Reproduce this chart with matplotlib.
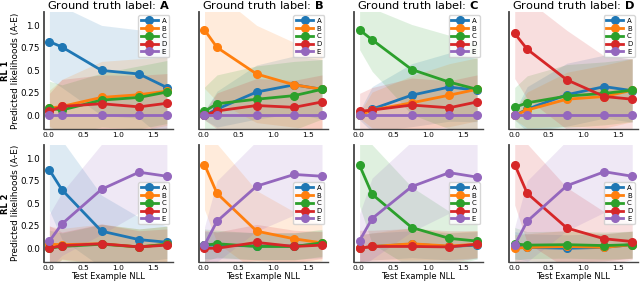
import numpy as np
import matplotlib
matplotlib.use("Agg")
from matplotlib import pyplot as plt

# test example NLL bins (x positions)
nll = [0.01, 0.19, 0.76, 1.3, 1.7]
labels = ['A', 'B', 'C', 'D', 'E']
colors = ['#1f77b4', '#ff7f0e', '#2ca02c', '#d62728', '#9467bd']

# RL 1 means, one entry per ground truth label, rows = predicted A..E
rl1_mean = {
    'A': [[0.82, 0.76, 0.50, 0.46, 0.31],
          [0.08, 0.10, 0.20, 0.23, 0.27],
          [0.08, 0.06, 0.17, 0.20, 0.26],
          [0.045, 0.10, 0.13, 0.095, 0.135],
          [0.0, 0.0, 0.0, 0.0, 0.0]],
    'B': [[0.0, 0.07, 0.26, 0.34, 0.29],
          [0.95, 0.755, 0.46, 0.34, 0.29],
          [0.045, 0.13, 0.18, 0.22, 0.29],
          [0.0, 0.05, 0.11, 0.09, 0.15],
          [0.0, 0.0, 0.0, 0.0, 0.0]],
    'C': [[0.0, 0.07, 0.225, 0.315, 0.28],
          [0.0, 0.06, 0.14, 0.225, 0.29],
          [0.95, 0.84, 0.51, 0.37, 0.29],
          [0.045, 0.06, 0.115, 0.085, 0.15],
          [0.0, 0.0, 0.0, 0.0, 0.0]],
    'D': [[0.0, 0.07, 0.23, 0.32, 0.275],
          [0.0, 0.06, 0.18, 0.21, 0.28],
          [0.09, 0.14, 0.215, 0.245, 0.28],
          [0.91, 0.735, 0.395, 0.21, 0.18],
          [0.0, 0.0, 0.0, 0.0, 0.0]],
}
rl1_std = {
    'A': [[0.42, 0.45, 0.50, 0.49, 0.60],
          [0.20, 0.30, 0.40, 0.40, 0.38],
          [0.30, 0.28, 0.30, 0.35, 0.35],
          [0.20, 0.30, 0.32, 0.35, 0.33],
          [0.0, 0.0, 0.0, 0.0, 0.0]],
    'B': [[0.05, 0.20, 0.30, 0.32, 0.33],
          [0.65, 0.60, 0.54, 0.47, 0.45],
          [0.27, 0.32, 0.37, 0.38, 0.33],
          [0.05, 0.20, 0.30, 0.30, 0.30],
          [0.0, 0.0, 0.0, 0.0, 0.0]],
    'C': [[0.05, 0.25, 0.35, 0.38, 0.35],
          [0.03, 0.20, 0.30, 0.35, 0.35],
          [0.22, 0.35, 0.50, 0.52, 0.50],
          [0.20, 0.25, 0.30, 0.30, 0.30],
          [0.0, 0.0, 0.0, 0.0, 0.0]],
    'D': [[0.05, 0.25, 0.35, 0.35, 0.35],
          [0.05, 0.20, 0.30, 0.35, 0.35],
          [0.22, 0.30, 0.35, 0.35, 0.35],
          [0.50, 0.55, 0.55, 0.45, 0.45],
          [0.0, 0.0, 0.0, 0.0, 0.0]],
}

# RL 2
rl2_mean = {
    'A': [[0.87, 0.65, 0.19, 0.096, 0.067],
          [0.045, 0.04, 0.05, 0.015, 0.045],
          [0.0, 0.02, 0.045, 0.015, 0.045],
          [0.0, 0.03, 0.05, 0.015, 0.035],
          [0.08, 0.27, 0.655, 0.845, 0.80]],
    'B': [[0.035, 0.035, 0.025, 0.025, 0.045],
          [0.93, 0.61, 0.19, 0.105, 0.06],
          [0.035, 0.05, 0.02, 0.02, 0.06],
          [0.0, 0.0, 0.065, 0.02, 0.035],
          [0.035, 0.30, 0.69, 0.82, 0.80]],
    'C': [[0.0, 0.02, 0.045, 0.02, 0.035],
          [0.0, 0.02, 0.05, 0.025, 0.045],
          [0.92, 0.60, 0.23, 0.11, 0.08],
          [0.0, 0.02, 0.02, 0.015, 0.045],
          [0.085, 0.33, 0.685, 0.84, 0.79]],
    'D': [[0.035, 0.01, 0.0, 0.01, 0.04],
          [0.0, 0.01, 0.02, 0.01, 0.04],
          [0.05, 0.035, 0.04, 0.03, 0.04],
          [0.93, 0.61, 0.225, 0.105, 0.075],
          [0.035, 0.30, 0.695, 0.85, 0.80]],
}
rl2_std = {
    'A': [[0.45, 0.55, 0.40, 0.25, 0.18],
          [0.20, 0.18, 0.22, 0.20, 0.20],
          [0.20, 0.15, 0.22, 0.20, 0.20],
          [0.25, 0.15, 0.22, 0.18, 0.18],
          [0.30, 0.35, 0.50, 0.45, 0.35]],
    'B': [[0.15, 0.15, 0.15, 0.15, 0.15],
          [0.50, 0.55, 0.45, 0.30, 0.20],
          [0.18, 0.15, 0.15, 0.15, 0.15],
          [0.20, 0.18, 0.20, 0.18, 0.15],
          [0.20, 0.45, 0.50, 0.45, 0.40]],
    'C': [[0.15, 0.15, 0.15, 0.15, 0.15],
          [0.15, 0.15, 0.18, 0.15, 0.15],
          [0.45, 0.55, 0.45, 0.30, 0.20],
          [0.20, 0.18, 0.20, 0.18, 0.15],
          [0.30, 0.45, 0.50, 0.45, 0.40]],
    'D': [[0.15, 0.15, 0.15, 0.15, 0.15],
          [0.15, 0.15, 0.18, 0.15, 0.15],
          [0.18, 0.15, 0.15, 0.15, 0.15],
          [0.45, 0.55, 0.45, 0.30, 0.20],
          [0.20, 0.45, 0.50, 0.45, 0.40]],
}

fig, axes = plt.subplots(2, 4, figsize=(6.4, 2.83), dpi=100, sharey=True)
fig.subplots_adjust(left=0.068, right=0.997, bottom=0.075, top=0.958,
                    wspace=0.2, hspace=0.135)

rows = [('RL 1', rl1_mean, rl1_std), ('RL 2', rl2_mean, rl2_std)]
for r, (name, means, stds) in enumerate(rows):
    for c, gt in enumerate(['A', 'B', 'C', 'D']):
        ax = axes[r, c]
        x = np.array(nll)
        for k, lab in enumerate(labels):
            m = np.array(means[gt][k])
            s = np.array(stds[gt][k])
            ax.fill_between(x, m - s, m + s, color=colors[k], alpha=0.15, lw=0)
            ax.plot(x, m, '-o', color=colors[k], lw=2, ms=5.5, label=lab)
        ax.set_ylim(-0.15, 1.15)
        ax.set_yticks([0.0, 0.25, 0.5, 0.75, 1.0])
        ax.set_yticklabels(['0.0', '0.25', '0.5', '0.75', '1.0'])
        ax.set_xticks([0.0, 0.5, 1.0, 1.5])
        ax.tick_params(axis='y', labelsize=6.3, length=0, pad=2.5)
        ax.tick_params(axis='x', labelsize=5.4, length=0, pad=2)
        for sp in ['top', 'right']:
            ax.spines[sp].set_visible(False)
        ax.spines['left'].set_color('#444444')
        ax.spines['left'].set_linewidth(1.3)
        ax.spines['bottom'].set_color('#444444')
        ax.spines['bottom'].set_linewidth(1.0)
        leg_kw = dict(fontsize=5, handlelength=2.5, borderpad=0.35,
                      labelspacing=0.25, handletextpad=0.5)
        if r == 0:
            ax.set_title(r'Ground truth label: $\bf{%s}$' % gt, fontsize=8.2, pad=2)
            ax.legend(loc='upper right', **leg_kw)
        else:
            ax.set_xlabel('Test Example NLL', fontsize=6, labelpad=1)
            ax.legend(loc='center right', **leg_kw)
        if c == 0:
            pos = ax.get_position()
            yc = (pos.y0 + pos.y1) / 2
            fig.text(5.5 / 640, yc, name, rotation=90, ha='center', va='center',
                     fontsize=6, fontweight='bold')
            fig.text(15.5 / 640, yc, 'Predicted likelihoods (A-E)', rotation=90,
                     ha='center', va='center', fontsize=6.4)

fig.savefig('out.png', dpi=100)
